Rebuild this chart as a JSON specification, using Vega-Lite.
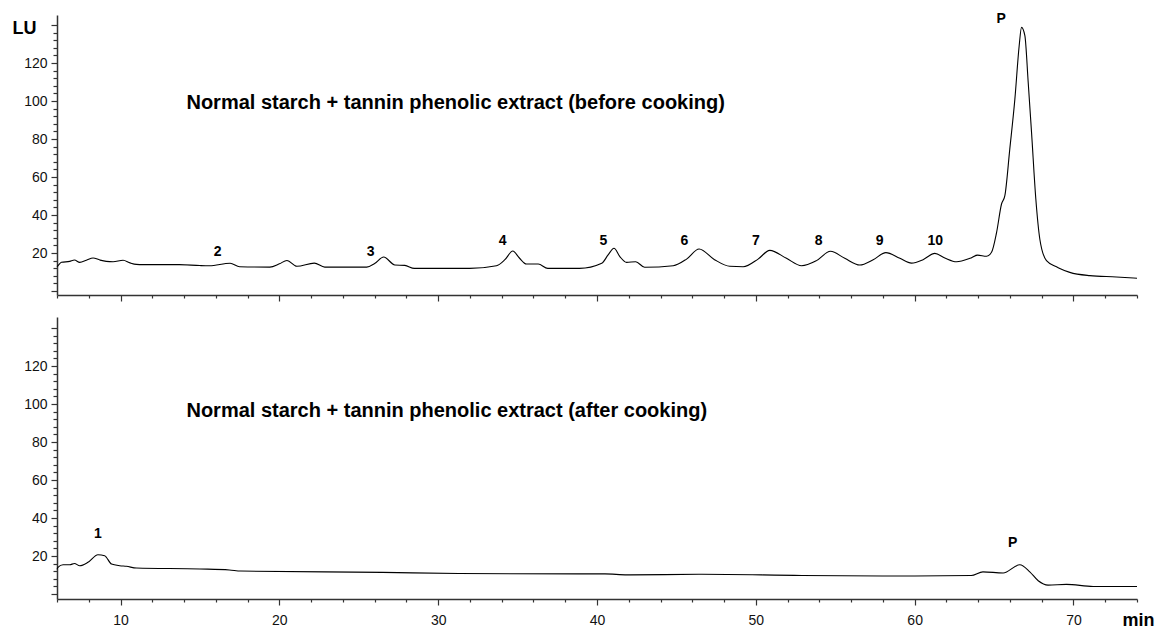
{
  "$schema": "https://vega.github.io/schema/vega-lite/v6.json",
  "background": "white",
  "padding": {"left": 12, "top": 11, "right": 5, "bottom": 5},
  "spacing": 22,
  "bounds": "flush",
  "config": {
    "font": "Liberation Sans",
    "view": {"stroke": null},
    "axis": {
      "grid": false,
      "domainColor": "#333",
      "domainWidth": 1.5,
      "tickColor": "#333",
      "tickWidth": 1.2,
      "labelColor": "#111",
      "labelFont": "Liberation Sans",
      "labelFontSize": 14,
      "labelOverlap": false,
      "labelFlush": false,
      "labelBound": false,
      "titleFont": "Liberation Sans",
      "titleColor": "#000"
    },
    "text": {"font": "Liberation Sans", "color": "#000"}
  },
  "datasets": {
    "before": [
      {"t": 6.0, "lu": 12.8}, {"t": 6.06, "lu": 13.3}, {"t": 6.28, "lu": 15.1}, {"t": 6.8, "lu": 15.6},
      {"t": 7.1, "lu": 16.3}, {"t": 7.43, "lu": 15.1}, {"t": 7.85, "lu": 16.2}, {"t": 8.27, "lu": 17.4},
      {"t": 8.7, "lu": 16.3}, {"t": 9.1, "lu": 15.6}, {"t": 9.53, "lu": 15.4}, {"t": 10.16, "lu": 16.2},
      {"t": 10.6, "lu": 14.8}, {"t": 11.0, "lu": 14.0}, {"t": 11.4, "lu": 13.9}, {"t": 13.7, "lu": 13.9},
      {"t": 15.0, "lu": 13.4}, {"t": 15.6, "lu": 13.3}, {"t": 16.9, "lu": 14.6}, {"t": 17.5, "lu": 12.8},
      {"t": 19.4, "lu": 12.6}, {"t": 20.0, "lu": 14.3}, {"t": 20.48, "lu": 16.1}, {"t": 21.1, "lu": 13.0},
      {"t": 22.2, "lu": 14.7}, {"t": 22.86, "lu": 12.6}, {"t": 25.5, "lu": 12.6}, {"t": 26.0, "lu": 14.5},
      {"t": 26.57, "lu": 17.9}, {"t": 27.27, "lu": 13.7}, {"t": 27.9, "lu": 13.5}, {"t": 28.5, "lu": 11.9},
      {"t": 31.99, "lu": 11.9}, {"t": 33.67, "lu": 13.3}, {"t": 34.2, "lu": 16.5}, {"t": 34.7, "lu": 21.05},
      {"t": 35.1, "lu": 17.5}, {"t": 35.56, "lu": 14.2}, {"t": 36.3, "lu": 14.2}, {"t": 36.9, "lu": 11.9},
      {"t": 38.9, "lu": 11.9}, {"t": 40.3, "lu": 14.6}, {"t": 40.7, "lu": 19.0}, {"t": 41.07, "lu": 22.5},
      {"t": 41.45, "lu": 18.0}, {"t": 41.86, "lu": 15.1}, {"t": 42.44, "lu": 15.4}, {"t": 43.0, "lu": 12.5},
      {"t": 44.8, "lu": 13.3}, {"t": 45.64, "lu": 16.8}, {"t": 46.43, "lu": 22.1}, {"t": 47.4, "lu": 16.5},
      {"t": 48.36, "lu": 13.0}, {"t": 49.2, "lu": 12.8}, {"t": 50.14, "lu": 16.8}, {"t": 50.88, "lu": 21.4},
      {"t": 51.93, "lu": 17.2}, {"t": 52.88, "lu": 13.3}, {"t": 53.82, "lu": 16.0}, {"t": 54.7, "lu": 20.9},
      {"t": 55.6, "lu": 17.2}, {"t": 56.55, "lu": 13.7}, {"t": 57.39, "lu": 16.5}, {"t": 58.19, "lu": 20.2},
      {"t": 59.07, "lu": 17.2}, {"t": 59.8, "lu": 14.7}, {"t": 60.53, "lu": 16.5}, {"t": 61.27, "lu": 19.8},
      {"t": 61.9, "lu": 17.4}, {"t": 62.64, "lu": 15.4}, {"t": 63.48, "lu": 17.2}, {"t": 63.96, "lu": 18.9},
      {"t": 64.53, "lu": 18.3}, {"t": 64.84, "lu": 20.4}, {"t": 65.16, "lu": 30.9}, {"t": 65.47, "lu": 45.8},
      {"t": 65.68, "lu": 50.2}, {"t": 65.99, "lu": 74.7}, {"t": 66.31, "lu": 101}, {"t": 66.58, "lu": 129},
      {"t": 66.73, "lu": 138.8}, {"t": 66.94, "lu": 134.4}, {"t": 67.15, "lu": 109.8}, {"t": 67.36, "lu": 83.5},
      {"t": 67.63, "lu": 48.4}, {"t": 67.88, "lu": 27.4}, {"t": 68.3, "lu": 16.0}, {"t": 68.93, "lu": 12.8},
      {"t": 69.14, "lu": 11.9}, {"t": 69.77, "lu": 9.8}, {"t": 71.03, "lu": 8.1}, {"t": 72.7, "lu": 7.4},
      {"t": 74.0, "lu": 6.7}
    ],
    "after": [
      {"t": 6.0, "lu": 13.0}, {"t": 6.06, "lu": 14.0}, {"t": 6.38, "lu": 15.4}, {"t": 6.8, "lu": 15.4},
      {"t": 7.1, "lu": 16.1}, {"t": 7.43, "lu": 14.9}, {"t": 7.95, "lu": 16.7}, {"t": 8.58, "lu": 20.7},
      {"t": 9.0, "lu": 20.2}, {"t": 9.43, "lu": 15.8}, {"t": 9.95, "lu": 14.9}, {"t": 10.37, "lu": 14.6},
      {"t": 11.0, "lu": 13.7}, {"t": 15.0, "lu": 13.2}, {"t": 16.85, "lu": 12.7}, {"t": 17.57, "lu": 12.1},
      {"t": 26.5, "lu": 11.4}, {"t": 31.3, "lu": 10.8}, {"t": 38.9, "lu": 10.6}, {"t": 40.5, "lu": 10.6},
      {"t": 41.9, "lu": 10.1}, {"t": 46.6, "lu": 10.4}, {"t": 52.9, "lu": 9.8}, {"t": 59.1, "lu": 9.5},
      {"t": 63.56, "lu": 9.8}, {"t": 64.3, "lu": 11.7}, {"t": 65.57, "lu": 11.1}, {"t": 66.62, "lu": 15.4},
      {"t": 67.25, "lu": 11.7}, {"t": 67.78, "lu": 7.0}, {"t": 68.4, "lu": 4.7}, {"t": 69.56, "lu": 5.1},
      {"t": 71.24, "lu": 4.0}, {"t": 74.0, "lu": 4.0}
    ],
    "peaks_before": [
      {"t": 16.12, "lu": 20.5, "label": "2"}, {"t": 25.75, "lu": 20.5, "label": "3"},
      {"t": 34.06, "lu": 26.3, "label": "4"}, {"t": 40.4, "lu": 26.3, "label": "5"},
      {"t": 45.5, "lu": 26.3, "label": "6"}, {"t": 50.0, "lu": 26.3, "label": "7"},
      {"t": 53.96, "lu": 26.3, "label": "8"}, {"t": 57.8, "lu": 26.3, "label": "9"},
      {"t": 61.3, "lu": 26.3, "label": "10"}, {"t": 65.45, "lu": 143.2, "label": "P"}
    ],
    "peaks_after": [
      {"t": 8.58, "lu": 31.6, "label": "1"}, {"t": 66.17, "lu": 26.7, "label": "P"}
    ],
    "caption_before": [
      {"t": 14.15, "lu": 98.8, "caption": "Normal starch + tannin phenolic extract (before cooking)"}
    ],
    "caption_after": [
      {"t": 14.15, "lu": 96.3, "caption": "Normal starch + tannin phenolic extract (after cooking)"}
    ]
  },
  "vconcat": [
    {
      "width": 1080,
      "height": 280,
      "encoding": {
        "x": {
          "field": "t", "type": "quantitative",
          "scale": {"domain": [6, 74], "nice": false, "zero": false},
          "axis": {
            "title": null,
            "labels": false,
            "values": [6, 8, 10, 12, 14, 16, 18, 20, 22, 24, 26, 28, 30, 32, 34, 36, 38, 40, 42, 44, 46, 48, 50, 52, 54, 56, 58, 60, 62, 64, 66, 68, 70, 72, 74],
            "tickSize": {"condition": {"test": "datum.value % 10 === 0", "value": 6}, "value": 3}
          }
        },
        "y": {
          "field": "lu", "type": "quantitative",
          "scale": {"domain": [-2.1, 145.3], "nice": false, "zero": false},
          "axis": {
            "title": "LU",
            "titleAngle": 0,
            "titleX": -33,
            "titleY": 13,
            "titleAlign": "center",
            "titleBaseline": "middle",
            "titleFontSize": 18,
            "titleFontWeight": "bold",
            "labelPadding": 4,
            "values": [0, 4, 8, 12, 16, 20, 24, 28, 32, 36, 40, 44, 48, 52, 56, 60, 64, 68, 72, 76, 80, 84, 88, 92, 96, 100, 104, 108, 112, 116, 120, 124, 128, 132, 136, 140],
            "labelExpr": "datum.value % 20 === 0 && datum.value > 0 && datum.value < 140 ? datum.label : ''",
            "tickSize": {"condition": {"test": "datum.value % 20 === 0", "value": 6}, "value": 4}
          }
        }
      },
      "layer": [
        {
          "data": {"name": "before"},
          "mark": {"type": "line", "interpolate": "monotone", "color": "#000", "strokeWidth": 1.1}
        },
        {
          "data": {"name": "peaks_before"},
          "mark": {"type": "text", "fontWeight": "bold", "fontSize": 14, "baseline": "middle", "align": "center"},
          "encoding": {"text": {"field": "label"}}
        },
        {
          "data": {"name": "caption_before"},
          "mark": {"type": "text", "fontWeight": "bold", "fontSize": 20, "baseline": "middle", "align": "left"},
          "encoding": {"text": {"field": "caption"}}
        }
      ]
    },
    {
      "width": 1080,
      "height": 282,
      "encoding": {
        "x": {
          "field": "t", "type": "quantitative",
          "scale": {"domain": [6, 74], "nice": false, "zero": false},
          "axis": {
            "title": "min",
            "titleX": 1081,
            "titleY": 21,
            "titleAlign": "center",
            "titleBaseline": "middle",
            "titleFontSize": 18,
            "titleFontWeight": "bold",
            "labelPadding": 8,
            "values": [6, 8, 10, 12, 14, 16, 18, 20, 22, 24, 26, 28, 30, 32, 34, 36, 38, 40, 42, 44, 46, 48, 50, 52, 54, 56, 58, 60, 62, 64, 66, 68, 70, 72, 74],
            "labelExpr": "datum.value % 10 === 0 ? datum.label : ''",
            "tickSize": {"condition": {"test": "datum.value % 10 === 0", "value": 6}, "value": 3}
          }
        },
        "y": {
          "field": "lu", "type": "quantitative",
          "scale": {"domain": [-2.6, 145.8], "nice": false, "zero": false},
          "axis": {
            "title": null,
            "labelPadding": 4,
            "values": [0, 4, 8, 12, 16, 20, 24, 28, 32, 36, 40, 44, 48, 52, 56, 60, 64, 68, 72, 76, 80, 84, 88, 92, 96, 100, 104, 108, 112, 116, 120, 124, 128, 132, 136, 140],
            "labelExpr": "datum.value % 20 === 0 && datum.value > 0 && datum.value < 140 ? datum.label : ''",
            "tickSize": {"condition": {"test": "datum.value % 20 === 0", "value": 6}, "value": 4}
          }
        }
      },
      "layer": [
        {
          "data": {"name": "after"},
          "mark": {"type": "line", "interpolate": "monotone", "color": "#000", "strokeWidth": 1.1}
        },
        {
          "data": {"name": "peaks_after"},
          "mark": {"type": "text", "fontWeight": "bold", "fontSize": 14, "baseline": "middle", "align": "center"},
          "encoding": {"text": {"field": "label"}}
        },
        {
          "data": {"name": "caption_after"},
          "mark": {"type": "text", "fontWeight": "bold", "fontSize": 20, "baseline": "middle", "align": "left"},
          "encoding": {"text": {"field": "caption"}}
        }
      ]
    }
  ]
}
